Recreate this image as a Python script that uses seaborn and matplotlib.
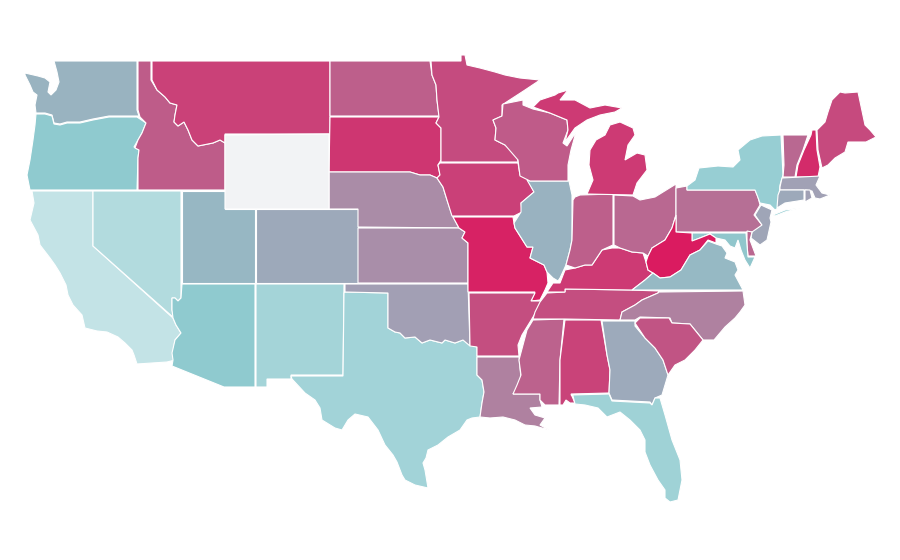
import numpy as np
import matplotlib
matplotlib.use('Agg')
import matplotlib.pyplot as plt
import seaborn as sns

wa = [(54,61),(137,61),(137,110),(139,116),(109,116),(93,119),(80,122),(67,122),(60,124),(54,123),(52,115),(45,113),(36,113),(35,105),(37,95),(33,92),(30,85),(25,75),(25,73),(38,76),(45,78),(50,82),(48,92),(51,95),(56,90),(59,82),(57,72)]
or_ = [(36,114),(45,114),(52,116),(54,124),(60,125),(67,123),(80,123),(93,120),(109,117),(137,117),(146,123),(142,133),(138,140),(134,147),(139,150),(138,158),(137,190),(30,190),(28,180),(27,175),(30,160),(33,140),(35,125)]
ca = [(32,191),(93,191),(93,246),(173,318),(176,325),(181,333),(175,340),(173,352),(175,360),(167,362),(137,364),(134,355),(132,350),(125,343),(118,337),(107,332),(97,331),(85,328),(82,315),(73,305),(68,295),(66,285),(60,273),(55,265),(50,258),(40,245),(38,235),(30,220),(34,203)]
nv = [(93,191),(181,191),(181,298),(178,301),(175,298),(172,298),(172,310),(174,318),(93,246)]
id_ = [(138,61),(151,61),(151,80),(157,90),(165,97),(170,103),(177,105),(175,115),(174,122),(178,126),(184,122),(188,130),(192,140),(198,146),(213,143),(220,140),(225,143),(225,190),(138,190),(138,158),(139,150),(135,148),(138,140),(142,133),(146,123),(140,117),(138,110)]
mt = [(152,61),(330,61),(330,134),(225,134),(225,143),(220,140),(213,143),(198,146),(192,140),(188,130),(184,122),(178,126),(174,122),(175,115),(177,105),(170,103),(165,97),(157,90),(152,80)]
wy = [(225,135),(329,134),(329,209),(225,209)]
ut = [(182,191),(225,191),(225,209),(255,209),(255,283),(182,283)]
co = [(256,209),(358,209),(358,283),(256,283)]
az = [(172,298),(175,298),(178,301),(181,298),(182,284),(255,284),(255,387),(224,387),(172,366),(173,360),(172,353),(175,340),(181,333),(176,325),(173,318),(172,310)]
nm = [(256,284),(344,284),(343,375),(291,375),(291,379),(267,379),(267,387),(256,387)]
tx = [(345,292),(388,293),(388,328),(395,332),(400,333),(405,338),(415,337),(422,343),(430,340),(442,343),(445,340),(455,343),(463,340),(470,345),(477,347),(477,375),(482,380),(484,392),(482,403),(480,417),(472,418),(467,420),(460,430),(448,437),(438,445),(428,450),(426,458),(423,463),(425,470),(428,488),(415,485),(405,480),(402,475),(397,462),(393,455),(385,445),(378,430),(368,417),(355,414),(348,420),(342,430),(335,428),(322,420),(320,408),(315,400),(305,393),(292,379),(291,376),(343,376),(344,293)]
nd = [(330,61),(430,61),(432,75),(436,85),(437,100),(439,116),(330,116)]
sd = [(330,117),(439,117),(436,123),(441,128),(441,160),(438,165),(440,175),(437,178),(430,175),(420,175),(410,172),(329,172)]
ne = [(329,172),(410,172),(420,175),(430,175),(437,178),(443,187),(447,200),(452,215),(459,228),(358,227),(358,209),(329,209)]
ks = [(358,228),(459,228),(465,232),(462,238),(468,243),(468,283),(358,283)]
ok = [(345,284),(468,284),(470,346),(463,340),(455,343),(445,340),(442,343),(430,340),(422,343),(415,337),(405,338),(400,333),(395,332),(388,328),(388,293),(345,292)]
mn = [(431,61),(461,61),(461,55),(465,55),(467,65),(480,68),(495,72),(505,75),(520,78),(540,80),(525,90),(505,103),(502,105),(502,116),(493,120),(496,128),(495,140),(505,145),(517,155),(518,162),(441,162),(441,128),(436,123),(439,117),(437,100),(436,85),(432,75)]
ia = [(440,163),(518,163),(520,175),(527,178),(534,192),(521,203),(522,212),(514,216),(452,216),(447,200),(443,187),(437,178),(440,175),(438,165)]
mo = [(453,217),(513,217),(514,223),(515,228),(527,247),(533,247),(530,258),(544,265),(547,272),(548,283),(545,290),(540,300),(531,301),(535,292),(468,292),(468,243),(462,238),(465,232),(459,228)]
ar = [(469,293),(535,293),(531,301),(542,301),(536,312),(530,322),(522,335),(518,345),(519,356),(477,356),(477,347),(470,346)]
la = [(477,357),(519,357),(520,368),(521,378),(517,388),(513,394),(540,394),(540,400),(542,407),(530,408),(535,415),(545,418),(540,425),(549,430),(535,426),(525,425),(515,420),(503,417),(490,418),(480,417),(482,403),(484,392),(482,380),(477,375)]
ms = [(533,320),(564,319),(560,360),(559,405),(545,405),(540,400),(540,394),(513,394),(517,385),(521,375),(519,360),(527,330)]
al = [(565,320),(601,320),(607,355),(610,370),(609,393),(571,394),(575,403),(570,403),(566,400),(563,405),(560,405),(560,360)]
ga = [(602,321),(635,321),(635,326),(645,338),(655,348),(663,360),(668,375),(665,385),(662,395),(655,398),(652,405),(650,402),(612,400),(609,393),(610,370),(607,355)]
fl = [(571,395),(609,394),(612,401),(650,403),(652,405),(655,398),(660,398),(665,415),(672,440),(680,460),(682,480),(678,500),(670,502),(665,498),(665,490),(658,480),(650,465),(645,452),(645,440),(640,430),(630,420),(620,412),(607,417),(598,408),(585,405),(575,404),(573,396)]
tn = [(533,319),(564,319),(620,320),(622,312),(635,305),(642,300),(658,293),(659,291),(630,290),(565,289),(565,292),(547,293),(540,302),(535,312)]
ky = [(547,292),(553,283),(560,283),(565,270),(575,268),(585,265),(592,265),(602,250),(612,248),(620,248),(632,252),(643,253),(646,262),(648,270),(653,273),(645,280),(632,290),(565,289),(565,292)]
il = [(530,181),(569,181),(572,195),(572,240),(570,250),(566,265),(560,278),(558,281),(553,278),(547,272),(544,265),(530,258),(533,247),(527,247),(515,228),(514,223),(521,212),(521,203),(534,192),(527,180)]
in_ = [(575,197),(580,195),(613,194),(613,245),(602,250),(592,265),(585,265),(575,268),(566,265),(570,250),(572,240),(573,200)]
oh = [(614,195),(633,196),(640,200),(655,197),(676,184),(676,215),(672,228),(665,240),(652,248),(648,256),(643,253),(632,252),(620,248),(614,245)]
pa = [(676,188),(687,186),(687,190),(755,190),(758,197),(760,205),(754,215),(762,225),(757,232),(676,232)]
ny = [(687,190),(687,186),(695,180),(699,168),(718,166),(733,167),(740,160),(738,150),(750,140),(762,136),(781,135),(783,175),(780,185),(778,208),(775,210),(770,205),(760,203),(757,195),(755,190)]
long_island = [(773,215),(785,210),(800,208),(785,212),(775,216)]
vt = [(783,135),(808,135),(803,150),(797,165),(795,177),(783,177),(784,165)]
nh = [(812,130),(816,130),(817,150),(820,167),(818,177),(796,177),(798,165),(804,150),(811,135)]
me = [(817,130),(825,122),(828,112),(832,100),(840,92),(845,93),(858,92),(865,125),(870,130),(876,137),(866,142),(848,142),(845,152),(835,158),(828,165),(822,168),(818,150)]
ma = [(782,178),(820,176),(816,185),(822,193),(830,195),(820,199),(815,198),(812,191),(806,190),(780,190),(780,187)]
ct = [(780,190),(804,190),(804,200),(785,203),(777,208),(778,195)]
ri = [(805,190),(810,190),(812,198),(805,202)]
nj = [(761,205),(772,210),(770,218),(771,222),(767,240),(760,245),(751,238),(752,232),(762,225),(755,215)]
de = [(747,231),(752,232),(750,240),(756,256),(748,256),(747,245)]
md = [(692,233),(746,233),(748,257),(755,257),(750,268),(745,260),(741,250),(738,240),(735,248),(730,246),(725,240),(716,238),(710,234),(700,238),(692,241)]
wv = [(676,215),(676,232),(692,233),(692,241),(700,238),(710,234),(716,238),(716,243),(708,240),(700,250),(690,255),(681,270),(670,277),(660,278),(653,273),(648,270),(646,262),(648,256),(652,248),(665,240),(672,228)]
va = [(632,290),(645,280),(653,273),(660,278),(670,277),(681,270),(690,255),(700,250),(708,241),(716,244),(722,246),(727,253),(725,258),(735,262),(738,270),(735,275),(743,290)]
nc = [(659,292),(743,291),(745,305),(740,312),(735,318),(725,327),(714,340),(703,340),(690,324),(672,323),(670,318),(640,317),(635,320),(620,320),(622,312),(635,305),(642,300),(658,293)]
sc = [(635,323),(640,318),(669,318),(672,323),(690,324),(703,340),(695,350),(685,360),(675,365),(668,375),(663,360),(655,348),(645,338)]
wi = [(503,104),(523,100),(523,105),(533,109),(550,113),(567,120),(568,130),(563,143),(567,146),(576,132),(571,150),(568,165),(568,181),(530,181),(520,176),(518,160),(505,145),(495,140),(496,128),(493,120),(502,116)]
mi_upper = [(533,107),(540,100),(555,95),(558,93),(568,90),(560,100),(575,100),(590,108),(605,105),(622,108),(615,112),(600,115),(587,120),(575,128),(565,142),(568,130),(567,120),(550,113)]
mi_lower = [(587,194),(633,195),(637,183),(647,170),(645,155),(637,153),(625,160),(628,145),(635,135),(633,128),(620,122),(610,125),(605,135),(596,140),(590,150),(589,165),(593,180)]

outlines = [wa, or_, ca, nv, id_, mt, ut, co, az, nm, tx, nd, sd, ne, ks, ok, mn, ia, mo, ar, la, ms, al, ga, fl, tn, ky, il, in_, oh, pa, ny, long_island, vt, nh, me, ma, ct, ri, nj, de, md, wv, va, nc, sc, wi, mi_upper, mi_lower, wy]

# Share per state (Wyoming has no data)
shares = [.305, .20, 0, .07, .703, .826, .287, .35, .20, .12, .127, .685, .876, .483, .474, .397, .78, .83, .968, .767, .534, .675, .82, .346, .14, .767, .858, .31, .689, .648, .616, .17, .17, .645, .922, .785, .39, .35, .39, .37, .65, .22, 1.0, .28, .534, .735, .707, .858, .858, np.nan]

sns.set_theme(style='white')

cmap = sns.blend_palette(['#c3e3e6', '#8fcacf', '#a29eb3', '#b57297', '#c7477c', '#da1b60'], n_colors=256, as_cmap=True)
cmap.set_bad('#f2f3f5')
norm = matplotlib.colors.Normalize(0, 1)

fig = plt.figure(figsize=(9, 5.6), dpi=100)
ax = fig.add_axes([0, 0, 1, 1])
for outline, share in zip(outlines, shares):
    xs, ys = zip(*outline)
    ax.fill(xs, ys, facecolor=cmap(norm(np.ma.masked_invalid(share))), edgecolor='white', linewidth=0.8)

ax.set_xlim(0, 900)
ax.set_ylim(560, 0)
ax.axis('off')
fig.savefig('out.png', dpi=100)
plt.close(fig)
